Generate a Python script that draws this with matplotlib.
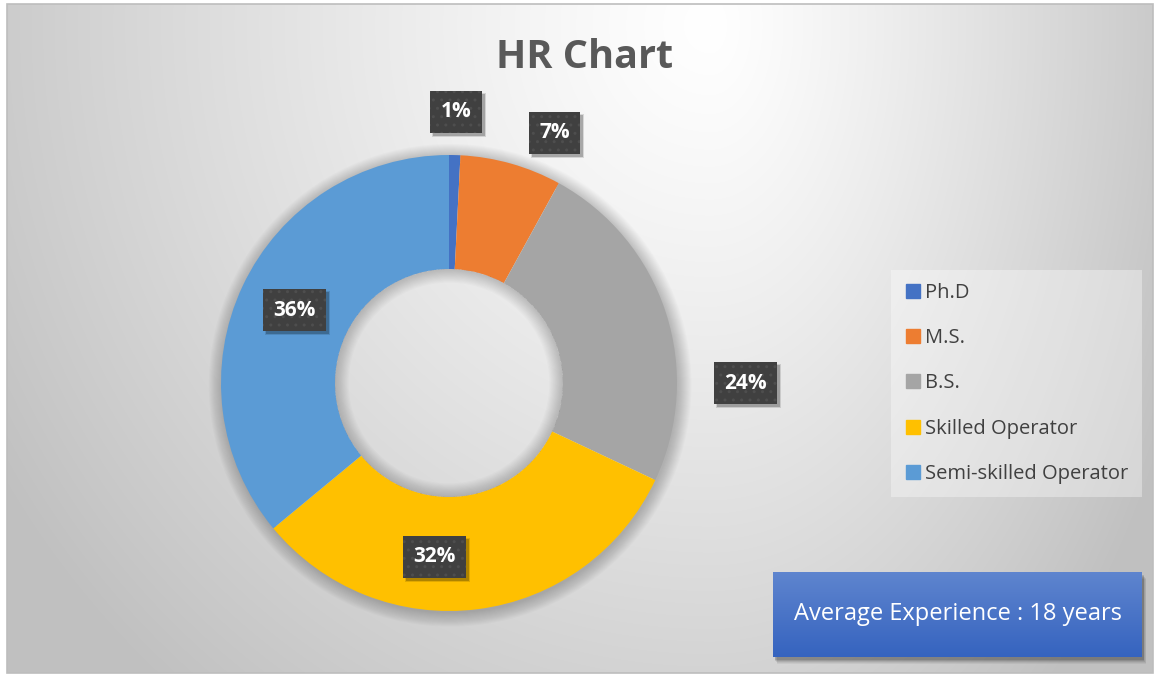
import numpy as np
import matplotlib
matplotlib.use("Agg")
import matplotlib.pyplot as plt
from matplotlib.patches import Rectangle, Wedge
from matplotlib.lines import Line2D
from matplotlib.transforms import IdentityTransform

# 数据
categories = ["Ph.D", "M.S.", "B.S.", "Skilled Operator", "Semi-skilled Operator"]
counts = [1, 9, 30, 40, 45]
colors = ["#4472C4", "#ED7D31", "#A5A5A5", "#FFC000", "#5B9BD5"]
title = "HR Chart"
note = "Average Experience : 18 years"

plt.rcParams["font.family"] = ["Open Sans", "DejaVu Sans"]

W, H = 1154, 675
fig = plt.figure(figsize=(W / 100, H / 100), dpi=100)

# 背景渐变
bg = fig.add_axes([0, 0, 1, 1], zorder=-5)
yy, xx = np.mgrid[0:H, 0:W]
cx, cy = 710, 25
sx = np.where(xx < cx, 760.0, 470.0)
d = np.sqrt(((xx - cx) / sx) ** 2 + ((yy - cy) / 800.0) ** 2)
val = 1 - 0.22 * np.clip(d, 0, 1.1) ** 1.2
val[:, :7] = 1.0
val[:, W - 1:] = 1.0
val[:4, :] = 1.0
val[673:, :] = 1.0
img = np.dstack([val, val, val])
bg.imshow(img, extent=(0, W, H, 0), aspect="auto", interpolation="bilinear")
bg.set_xlim(0, W)
bg.set_ylim(H, 0)
bg.axis("off")
bg.add_patch(Rectangle((7, 4), W - 8, 669, fill=False, ec="#bdbdbd", lw=1.2))

# 右下角说明框的阴影
bx0, by0, bx1, by1 = 773, 572, 1142, 657
for off, al in [(7, 0.05), (6, 0.06), (5, 0.08), (4, 0.1), (3, 0.12)]:
    bg.add_patch(Rectangle((bx0 + off * 0.6, by0 + off), bx1 - bx0, by1 - by0,
                           fc="black", alpha=al, lw=0))

fig.text(585 / W, 1 - 57 / H, title, ha="center", va="center",
         fontsize=28.5, fontweight="bold", color="#595959")

# 圆环图
R = 228
ccx, ccy = 449, 383
half = 300
ax = fig.add_axes([(ccx - half) / W, (H - ccy - half) / H, 2 * half / W, 2 * half / H])

# 阴影
for k in range(14):
    ax.add_patch(Wedge((0.005, -0.01), 1.0 + k * 0.0045, 0, 360,
                       width=0.02 + k * 0.0045, fc="black", alpha=0.016, lw=0, zorder=0.5))
for k in range(12):
    ax.add_patch(Wedge((0, 0), 0.5, 0, 360, width=0.005 + k * 0.005,
                       fc="black", alpha=0.016, lw=0, zorder=2))

ax.pie(counts, colors=colors, startangle=90, counterclock=False, radius=1,
       wedgeprops=dict(width=0.5, edgecolor="none"))
lim = half / R
ax.set_xlim(-lim, lim)
ax.set_ylim(-lim, lim)
ax.axis("off")

total = sum(counts)
# 标签位置（相对扇区中心角的偏移, 半径）
label_shift = [0, -7, -18, -12, 0]
label_r = [1.19, 1.19, 1.30, 0.765, 0.75]
labels = []
start = 90.0
for i, c in enumerate(counts):
    frac = c / total
    mid = start - frac * 360 / 2
    start -= frac * 360
    a = np.radians(mid + label_shift[i])
    x, y = label_r[i] * np.cos(a), label_r[i] * np.sin(a)
    t = ax.text(x, y, f"{round(frac * 100)}%", ha="center", va="center", fontsize=15,
                fontweight="bold", color="white", zorder=5,
                bbox=dict(boxstyle="square,pad=0.5", fc="#404040", ec="#4e4e4e",
                          lw=0, hatch=".."))
    labels.append(t)

# 标签阴影
fig.canvas.draw()
rend = fig.canvas.get_renderer()
for t in labels:
    bb = t.get_bbox_patch().get_window_extent(rend)
    for off, grow, al in [(3, 2, 0.12), (3, 0, 0.22)]:
        ax.add_patch(Rectangle((bb.x0 + off - grow / 2, bb.y0 - off - grow / 2),
                               bb.width + grow, bb.height + grow,
                               transform=IdentityTransform(), fc="black", alpha=al,
                               lw=0, zorder=4, clip_on=False))

# 图例
handles = [Line2D([], [], marker="s", ls="none", color=c, markersize=10) for c in colors]
leg = fig.legend(handles, categories, loc="upper left",
                 bbox_to_anchor=(891 / W, 1 - 270 / H), borderaxespad=0,
                 frameon=True, fancybox=False, facecolor="white", framealpha=0.35,
                 edgecolor="none", fontsize=14.5, labelcolor="#404040",
                 labelspacing=1.25, handletextpad=0.15, handlelength=0.9,
                 borderpad=0.65)

# 右下角说明框
box = fig.add_axes([bx0 / W, (H - by1) / H, (bx1 - bx0) / W, (by1 - by0) / H], zorder=3)
top = np.array([0.37, 0.52, 0.81])
bot = np.array([0.21, 0.39, 0.75])
g = np.linspace(0, 1, 100)[:, None]
grad = (top * (1 - g) + bot * g)[:, None, :].repeat(2, axis=1)
box.imshow(grad, extent=(0, 1, 0, 1), aspect="auto", interpolation="bilinear")
box.set_xlim(0, 1)
box.set_ylim(0, 1)
box.axis("off")
box.text(0.5, 0.5, note, ha="center", va="center", fontsize=17, color="white")

plt.savefig("out.png", dpi=100)
